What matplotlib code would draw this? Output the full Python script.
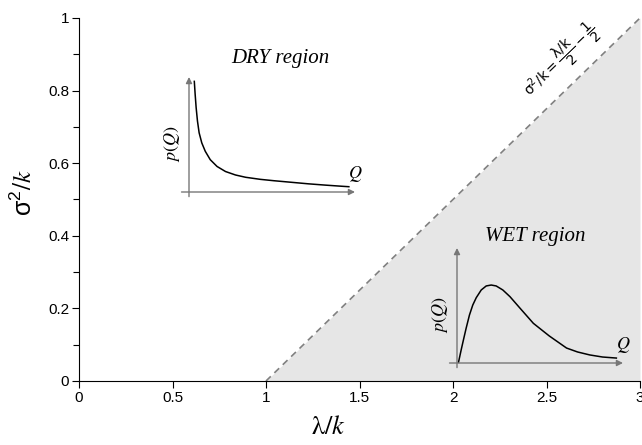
import matplotlib
matplotlib.use("Agg")
import matplotlib.pyplot as plt
from matplotlib.ticker import MultipleLocator

# phase boundary sigma^2/k = lambda/(2k) - 1/2
boundary_x = [1.0, 3.0]
boundary_y = [0.0, 1.0]

x_ticks = [0, 0.5, 1, 1.5, 2, 2.5, 3]
x_tick_labels = ['0', '0.5', '1', '1.5', '2', '2.5', '3']
y_ticks = [0, 0.2, 0.4, 0.6, 0.8, 1]
y_tick_labels = ['0', '0.2', '0.4', '0.6', '0.8', '1']

# schematic p(Q) shapes (normalised inset units)
dry_q = [0.032, 0.037, 0.043, 0.051, 0.061, 0.077, 0.098, 0.128, 0.169, 0.22,
         0.28, 0.341, 0.43, 0.512, 0.62, 0.72, 0.82, 0.92, 0.963]
dry_p = [0.962, 0.851, 0.734, 0.617, 0.515, 0.427, 0.354, 0.281, 0.222, 0.178,
         0.148, 0.128, 0.11, 0.098, 0.084, 0.071, 0.06, 0.05, 0.046]

wet_q = [0.009, 0.025, 0.041, 0.055, 0.075, 0.095, 0.116, 0.146, 0.176, 0.206, 0.236,
         0.276, 0.319, 0.38, 0.46, 0.556, 0.66, 0.726, 0.80, 0.877, 0.96]
wet_p = [0.006, 0.113, 0.215, 0.302, 0.417, 0.504, 0.568, 0.635, 0.67, 0.678, 0.67,
         0.635, 0.577, 0.476, 0.345, 0.235, 0.13, 0.096, 0.07, 0.052, 0.043]

plt.rcParams['font.family'] = ['Liberation Sans', 'DejaVu Sans']
plt.rcParams['mathtext.fontset'] = 'stix'

fig = plt.figure(figsize=(6.42, 4.45), dpi=100)
ax = fig.add_axes([79 / 642, 64 / 445, 561 / 642, 363 / 445])

ax.fill_between(boundary_x, boundary_y, 0, color='#e6e6e6', lw=0)
ax.plot(boundary_x, boundary_y, color='#808080', lw=1.2, dashes=(4, 3))

ax.set_xlim(0, 3)
ax.set_ylim(0, 1)
ax.spines['top'].set_visible(False)
ax.spines['right'].set_visible(False)
ax.set_xticks(x_ticks, x_tick_labels)
ax.set_yticks(y_ticks, y_tick_labels)
ax.yaxis.set_minor_locator(MultipleLocator(0.1))
ax.tick_params(which='major', length=5, width=0.8, labelsize=11, pad=2)
ax.tick_params(which='minor', length=4, width=0.8)

ax.set_xlabel(r'$\mathrm{\lambda}/k$', fontsize=19)
ax.xaxis.set_label_coords(0.444, -0.095)
ax.set_ylabel(r'$\mathregular{\sigma^2}/k$', fontsize=18)
ax.yaxis.set_label_coords(-0.075, 0.518)

ax.text(2.575, 0.885, r'$\mathrm{\sigma^2/k = \dfrac{\lambda/k}{2} - \dfrac{1}{2}}$',
        rotation=44, ha='center', va='center', fontsize=10,
        math_fontfamily='dejavusans')


def inset(left, bottom, q, p, title, tx, ty):
    ia = fig.add_axes([left / 642, (445 - bottom) / 445, 166 / 642, 115 / 445])
    ia.set_xlim(0, 1)
    ia.set_ylim(0, 1)
    ia.axis('off')
    arrow = dict(arrowstyle='-|>', color='#777777', lw=1, mutation_scale=9,
                 shrinkA=0, shrinkB=0)
    ia.annotate('', xy=(0, 1.0), xytext=(0, -0.04), arrowprops=arrow, annotation_clip=False)
    ia.annotate('', xy=(1.0, 0), xytext=(-0.045, 0), arrowprops=arrow, annotation_clip=False)
    ia.plot(q, p, color='black', lw=1.1, clip_on=False, solid_joinstyle='round')
    ia.text(-0.1, 0.42, r'$p(Q)$', rotation=90, ha='center', va='center', fontsize=13)
    ia.text(1.0, 0.16, r'$Q$', ha='center', va='center', fontsize=13)
    ia.text(tx, ty, title, ha='center', va='center', fontsize=15,
            family='Liberation Serif', style='italic')


inset(189, 192, dry_q, dry_p, 'DRY region', 0.55, 1.16)
inset(457, 363, wet_q, wet_p, 'WET region', 0.47, 1.1)

fig.savefig('out.png', dpi=100)
